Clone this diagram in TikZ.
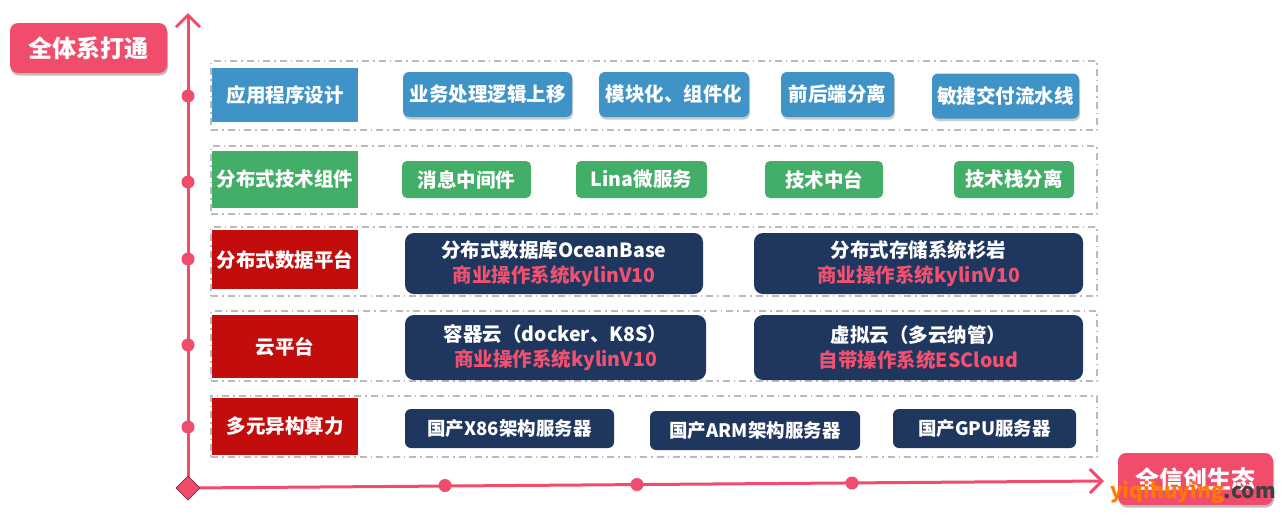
\documentclass[tikz,border=0pt]{standalone}
\usepackage{fontspec}
\setmainfont{Noto Sans CJK SC}[BoldFont={Noto Sans CJK SC Black}]
\usetikzlibrary{arrows.meta,shapes.geometric,shadows}
\definecolor{axisred}{HTML}{F04C6C}
\definecolor{appblue}{HTML}{3F93C7}
\definecolor{compgreen}{HTML}{43AE67}
\definecolor{darkred}{HTML}{C30D0D}
\definecolor{navy}{HTML}{1F365F}
\definecolor{pinktext}{HTML}{F2506F}
\definecolor{rowgray}{HTML}{BBBBBB}
\definecolor{wmorange}{HTML}{FF7A00}
\tikzset{
  x=1pt, y=-1pt,
  box/.style={rectangle, inner sep=0pt, text=white, align=center,
    font=\bfseries\fontsize{19.5}{25}\selectfont},
  rowframe/.style={draw=rowgray, line width=1.5pt, rectangle, inner sep=0pt,
    dash pattern=on 7pt off 4pt on 1.5pt off 4pt},
  catbox/.style={box, minimum width=146pt},
  appitem/.style={box, fill=appblue, rounded corners=6pt, minimum height=45pt,
    drop shadow={shadow xshift=1pt, shadow yshift=-2.5pt, fill=black!45, opacity=0.45}},
  compitem/.style={box, fill=compgreen, rounded corners=5pt, minimum height=37pt},
  navyitem/.style={box, fill=navy, rounded corners=9pt},
  hwitem/.style={box, fill=navy, rounded corners=6pt, minimum height=39pt,
    font=\bfseries\fontsize{18.5}{22}\selectfont},
  badge/.style={box, fill=axisred, rounded corners=8pt,
    font=\bfseries\fontsize{24}{28}\selectfont,
    drop shadow={shadow xshift=1pt, shadow yshift=-2.5pt, fill=black!50, opacity=0.5}},
  axisline/.style={draw=axisred, line width=3pt},
  axisdot/.style={circle, fill=axisred, inner sep=0pt, minimum size=13pt},
  barb/.style={-{Straight Barb[length=12pt, width=24pt, line width=3pt]}},
}
\newcommand{\pk}[1]{\textcolor{pinktext}{#1}}
\begin{document}
\begin{tikzpicture}
\useasboundingbox[fill=white] (0,0) rectangle (1285,515);

% row frames
\node[rowframe, minimum width=886pt, minimum height=69pt] (row1) at (654,95.5) {};
\node[rowframe, minimum width=886pt, minimum height=68pt] (row2) at (654,180) {};
\node[rowframe, minimum width=886pt, minimum height=69pt] (row3) at (654,261.5) {};
\node[rowframe, minimum width=886pt, minimum height=70pt] (row4) at (654,346) {};
\node[rowframe, minimum width=886pt, minimum height=61pt] (row5) at (654,426.5) {};

% category boxes
\node[catbox, fill=appblue, minimum height=54pt] (cat1) at (285,95) {应用程序设计};
\node[catbox, fill=compgreen, minimum height=57pt] (cat2) at (285,179.5) {分布式技术组件};
\node[catbox, fill=darkred, minimum height=59pt] (cat3) at (285,259.5) {分布式数据平台};
\node[catbox, fill=darkred, minimum height=63pt] (cat4) at (285,346.5) {云平台};
\node[catbox, fill=darkred, minimum height=57pt] (cat5) at (285,426.5) {多元异构算力};

% row 1
\node[appitem, minimum width=169pt] (a1) at (487.5,94.5) {业务处理逻辑上移};
\node[appitem, minimum width=150pt] (a2) at (674,94.5) {模块化、组件化};
\node[appitem, minimum width=113pt] (a3) at (837.5,94.5) {前后端分离};
\node[appitem, minimum width=147pt] (a4) at (1005.5,96) {敏捷交付流水线};

% row 2
\node[compitem, minimum width=129pt] (b1) at (466.5,179.5) {消息中间件};
\node[compitem, minimum width=131pt] (b2) at (641.5,179.5) {Lina微服务};
\node[compitem, minimum width=118pt] (b3) at (824,179.5) {技术中台};
\node[compitem, minimum width=120pt] (b4) at (1014,179.5) {技术栈分离};

% row 3
\node[navyitem, minimum width=298pt, minimum height=61pt] (c1) at (554,263.5)
  {分布式数据库OceanBase\\\pk{商业操作系统kylinV10}};
\node[navyitem, minimum width=329pt, minimum height=61pt] (c2) at (918.5,263.5)
  {分布式存储系统杉岩\\\pk{商业操作系统kylinV10}};

% row 4
\node[navyitem, minimum width=301pt, minimum height=65pt] (d1) at (555.5,347.5)
  {容器云（docker、K8S）\\\pk{商业操作系统kylinV10}};
\node[navyitem, minimum width=329pt, minimum height=65pt] (d2) at (918.5,347.5)
  {虚拟云（多云纳管）\\\pk{自带操作系统ESCloud}};

% row 5
\node[hwitem, minimum width=209pt] (e1) at (509.5,428.5) {国产X86架构服务器};
\node[hwitem, minimum width=210pt] (e2) at (755,430.5) {国产ARM架构服务器};
\node[hwitem, minimum width=183pt] (e3) at (984.5,428.5) {国产GPU服务器};

% axes
\coordinate (ytop) at (188,13);
\coordinate (xend) at (1104,481);
\node[diamond, fill=axisred, draw=axisred!70!black, line width=0.8pt,
  inner sep=0pt, minimum size=24pt] (origin) at (188,488) {};
\draw[axisline, barb] (origin.center) -- (ytop);
\draw[axisline, barb] (origin.center) -- (xend);
\node[diamond, fill=axisred, draw=axisred!60!black, line width=0.8pt,
  inner sep=0pt, minimum size=24pt] at (origin) {};

\node[axisdot] (v1) at (188,96) {};
\node[axisdot] (v2) at (188,182) {};
\node[axisdot] (v3) at (188,259) {};
\node[axisdot] (v4) at (188,345) {};
\node[axisdot] (v5) at (188,427) {};
\node[axisdot] (h1) at (445,485.5) {};
\node[axisdot] (h2) at (637,484.5) {};
\node[axisdot] (h3) at (852,483) {};

% badges
\node[badge, minimum width=157pt, minimum height=50pt] (top) at (88.5,48) {全体系打通};
\node[badge, minimum width=155pt, minimum height=52pt] (bottom) at (1195.5,479) {全信创生态};

% watermark
\node[inner sep=0pt, font=\bfseries\fontsize{21}{24}\selectfont] (wm) at (1193,492)
  {\textcolor{wmorange}{yiqihuying}\textcolor{black!75}{.com}};
\end{tikzpicture}
\end{document}
